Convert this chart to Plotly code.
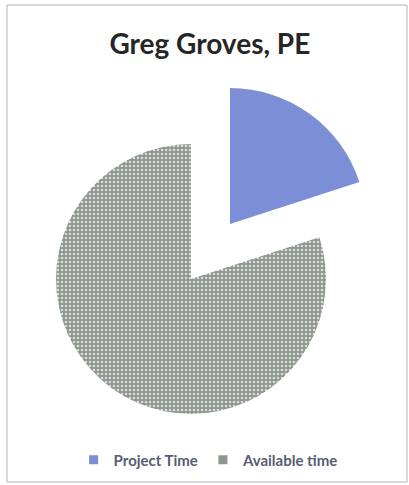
import plotly.graph_objects as go

title = "Greg Groves, PE"
labels = ["Project Time", "Available time"]
values = [20, 80]
colors = ["#7b8ed6", "#8e978b"]

W, H = 409, 485

def dom(cx, cy, r):
    return dict(x=[(cx - r) / W, (cx + r) / W], y=[1 - (cy + r) / H, 1 - (cy - r) / H])

fig = go.Figure()

# grey slice (Available time)
fig.add_trace(go.Pie(
    labels=labels, values=values, sort=False, direction="clockwise", rotation=0,
    marker=dict(colors=["rgba(0,0,0,0)", colors[1]],
                pattern=dict(shape=["", "."], bgcolor=["rgba(0,0,0,0)", colors[1]],
                             fgcolor=["rgba(0,0,0,0)", "#d9dbe0"], size=4, solidity=0.35),
                line=dict(width=0)),
    textinfo="none", hoverinfo="label+value", showlegend=False,
    domain=dom(191, 279, 135),
))
# blue slice (Project Time), exploded
fig.add_trace(go.Pie(
    labels=labels, values=values, sort=False, direction="clockwise", rotation=0,
    marker=dict(colors=[colors[0], "rgba(0,0,0,0)"], line=dict(width=0)),
    textinfo="none", hoverinfo="label+value", showlegend=False,
    domain=dom(230, 224, 136),
))
# legend entries
for lab, col in zip(labels, colors):
    fig.add_trace(go.Scatter(x=[None], y=[None], mode="markers", name="<b>" + lab + "</b>",
                             marker=dict(symbol="square", size=9, color=col)))

fig.update_layout(
    width=W, height=H,
    margin=dict(l=0, r=0, t=0, b=0),
    paper_bgcolor="white", plot_bgcolor="white",
    title=dict(text="<b>" + title + "</b>", x=0.513, xanchor="center", y=1 - 44 / H, yanchor="middle",
               font=dict(family="Lato", size=28, color="#262626")),
    xaxis=dict(visible=False), yaxis=dict(visible=False),
    legend=dict(orientation="h", x=0.51, xanchor="center", y=1 - 460 / H, yanchor="middle",
                font=dict(family="Lato", size=15, color="#585d74"), itemwidth=30,
                bgcolor="rgba(0,0,0,0)"),
    shapes=[dict(type="rect", xref="paper", yref="paper",
                 x0=7 / W, x1=407 / W, y0=1 - 482 / H, y1=1 - 5 / H,
                 line=dict(color="#b4b4bc", width=1))],
)

fig.write_html("out.html")
